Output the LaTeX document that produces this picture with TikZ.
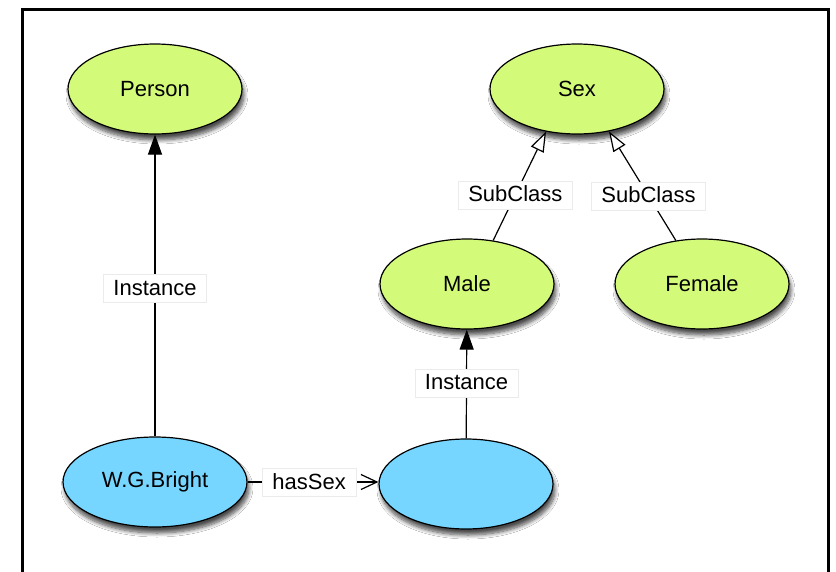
\documentclass[tikz,border=0pt]{standalone}
\usepackage{fontspec}
\setmainfont{Liberation Sans}
\usetikzlibrary{shapes.geometric,arrows.meta,shadows.blur}
\definecolor{nodegreen}{RGB}{212,250,122}
\definecolor{nodeblue}{RGB}{118,214,255}
\begin{document}
\begin{tikzpicture}[x=1pt,y=-1pt,
  base/.style={ellipse, draw=black, line width=1.2pt, minimum width=174pt, minimum height=90pt,
    font=\fontsize{22}{24}\selectfont,
    blur shadow={shadow xshift=2pt, shadow yshift=-6pt, shadow blur steps=8, shadow blur radius=4pt, shadow opacity=70}},
  cls/.style={base, fill=nodegreen},
  ind/.style={base, fill=nodeblue},
  lbl/.style={fill=white, draw=black!8, line width=0.5pt, inner xsep=10pt, inner ysep=6pt,
    text height=15pt, text depth=1pt, font=\fontsize{22}{24}\selectfont},
  edge/.style={line width=1.2pt, draw=black},
  inst/.style={edge, -{Triangle[width=14pt,length=20pt]}},
  sub/.style={edge, -{Triangle[open, fill=white, width=14pt, length=20pt]}},
  prop/.style={edge, -{Straight Barb[width=15pt,length=16pt]}}
]
\useasboundingbox (0,0) rectangle (836,571);
\clip (0,0) rectangle (836,571);
\fill[white] (0,0) rectangle (836,571);
\draw[line width=3.5pt, line join=miter] (22.5,600) -- (22.5,9.5) -- (828.5,9.5) -- (828.5,600);

\node[cls] (person) at (155,89) {Person};
\node[cls] (sex) at (577,89) {Sex};
\node[cls] (male) at (467,284) {Male};
\node[cls] (female) at (702,284) {Female};
\node[ind, minimum width=184pt] (bright) at (155,482) {W.G.Bright};
\node[ind] (blank) at (466,484) {};

\draw[inst] (bright) -- node[lbl, pos=0.49] (l1) {Instance} (person);
\draw[inst] (blank) -- node[lbl, pos=0.51] (l2) {Instance} (male);
\draw[sub] (male.59) -- node[lbl, pos=0.42] (l3) {SubClass} (sex.234);
\draw[sub] (female.121) -- node[lbl, pos=0.41] (l4) {SubClass} (sex.307);
\draw[prop] (bright.east |- 0,482) -- node[lbl, pos=0.47] (l5) {hasSex} (blank.west |- 0,482);
\end{tikzpicture}
\end{document}
